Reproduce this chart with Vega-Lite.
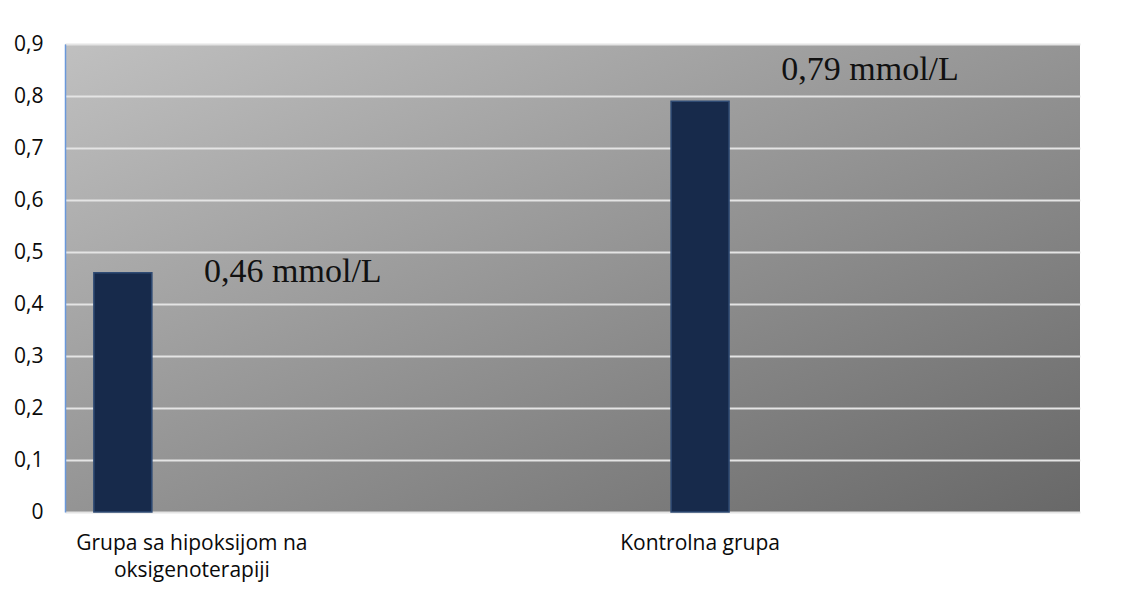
{
  "$schema": "https://vega.github.io/schema/vega-lite/v6.json",
  "width": 1015,
  "height": 468,
  "autosize": "none",
  "padding": {"left": 65, "top": 44, "right": 41, "bottom": 86},
  "background": "white",
  "view": {
    "stroke": null,
    "fill": {
      "gradient": "linear",
      "x1": 0, "y1": 0, "x2": 1, "y2": 1,
      "stops": [
        {"offset": 0, "color": "#c0c0c0"},
        {"offset": 1, "color": "#686868"}
      ]
    }
  },
  "data": {
    "values": [
      {"grupa": "Grupa sa hipoksijom na oksigenoterapiji", "laktat": 0.46, "oznaka": "0,46 mmol/L"},
      {"grupa": "Kontrolna grupa", "laktat": 0.79, "oznaka": "0,79 mmol/L"}
    ]
  },
  "encoding": {
    "x": {
      "field": "grupa",
      "type": "nominal",
      "sort": null,
      "scale": {"paddingInner": 0.8995, "paddingOuter": 0.329, "align": 0.076},
      "axis": {
        "title": null,
        "domain": false,
        "ticks": false,
        "labelAngle": 0,
        "labelLimit": 0,
        "labelFont": "Open Sans",
        "labelFontSize": 21,
        "labelColor": "#0a0a0a",
        "labelBaseline": "top",
        "labelPadding": 20,
        "labelLineHeight": 27,
        "labelOffset": {
          "condition": {"test": "datum.value == 'Grupa sa hipoksijom na oksigenoterapiji'", "value": 69},
          "value": 0
        },
        "labelExpr": "datum.value == 'Grupa sa hipoksijom na oksigenoterapiji' ? ['Grupa sa hipoksijom na', 'oksigenoterapiji'] : datum.value"
      }
    },
    "y": {
      "field": "laktat",
      "type": "quantitative",
      "scale": {"domain": [0, 0.9], "nice": false},
      "axis": {
        "title": null,
        "values": [0, 0.1, 0.2, 0.3, 0.4, 0.5, 0.6, 0.7, 0.8, 0.9],
        "labelExpr": "datum.value == 0 ? '0' : replace(format(datum.value, '.1f'), '.', ',')",
        "grid": true,
        "gridColor": "#e4e4e4",
        "gridWidth": 2,
        "domain": true,
        "domainColor": "#6a98da",
        "domainWidth": 1.5,
        "ticks": false,
        "labelPadding": 22,
        "labelFont": "Open Sans",
        "labelFontSize": 21,
        "labelColor": "#0a0a0a"
      }
    }
  },
  "layer": [
    {
      "mark": {"type": "bar", "fill": "#172a4b", "stroke": "#2f4b74", "strokeWidth": 1.5}
    },
    {
      "mark": {
        "type": "text",
        "font": "Liberation Serif",
        "fontSize": 34,
        "align": "center",
        "baseline": "alphabetic",
        "color": "#111111",
        "dx": 170,
        "dy": {"expr": "datum.laktat > 0.6 ? -21 : 9"}
      },
      "encoding": {"text": {"field": "oznaka"}}
    }
  ]
}
